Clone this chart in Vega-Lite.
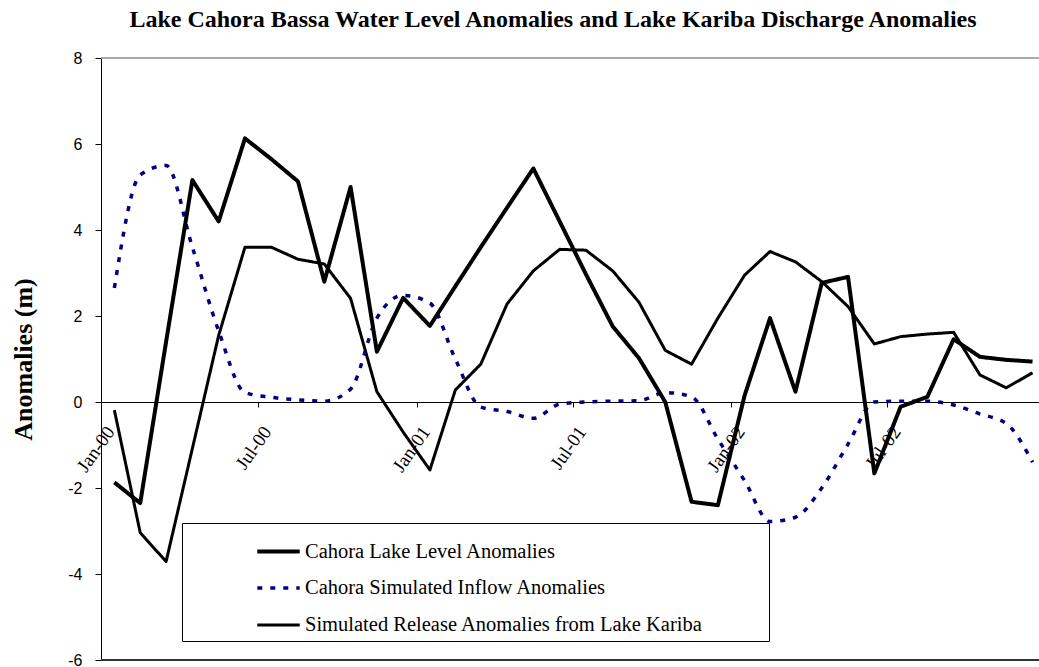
{
  "$schema": "https://vega.github.io/schema/vega-lite/v6.json",
  "width": 938,
  "height": 602,
  "autosize": {"type": "none"},
  "padding": {"left": 101, "top": 58, "right": 0, "bottom": 7},
  "background": "white",
  "config": {
    "view": {"stroke": null},
    "axisY": {
      "tickSize": 6, "tickColor": "#000000", "domainColor": "#000000", "grid": false,
      "labelFont": "Liberation Sans", "labelFontSize": 16, "labelColor": "#000000", "labelPadding": 13,
      "titleFont": "Liberation Serif", "titleFontSize": 26, "titleFontWeight": "bold", "titleColor": "#000000", "titlePadding": 31
    },
    "legend": {
      "orient": "none",
      "legendX": 81,
      "legendY": 465,
      "strokeColor": "#000000",
      "fillColor": "#ffffff",
      "padding": 5,
      "symbolType": "stroke",
      "symbolSize": 1800,
      "symbolOffset": 68,
      "labelFont": "Liberation Serif",
      "labelFontSize": 20.5,
      "labelColor": "#000000",
      "labelLimit": 0,
      "labelOffset": 3,
      "rowPadding": 3,
      "titleOrient": "right",
      "titlePadding": 61,
      "titleFontSize": 2
    }
  },
  "title": {
    "text": "Lake Cahora Bassa Water Level Anomalies and Lake Kariba Discharge  Anomalies",
    "font": "Liberation Serif",
    "fontSize": 24,
    "fontWeight": "bold",
    "color": "#000000",
    "anchor": "middle",
    "dx": -17,
    "offset": 18
  },
  "data": {
    "values": [
      {"month": "2000-01-01", "Cahora Lake Level Anomalies": -1.87, "Cahora Simulated Inflow Anomalies": 2.65, "Simulated Release Anomalies from Lake Kariba": -0.19},
      {"month": "2000-02-01", "Cahora Lake Level Anomalies": -2.35, "Cahora Simulated Inflow Anomalies": 5.28, "Simulated Release Anomalies from Lake Kariba": -3.04},
      {"month": "2000-03-01", "Cahora Lake Level Anomalies": 1.4, "Cahora Simulated Inflow Anomalies": 5.5, "Simulated Release Anomalies from Lake Kariba": -3.71},
      {"month": "2000-04-01", "Cahora Lake Level Anomalies": 5.16, "Cahora Simulated Inflow Anomalies": 3.6, "Simulated Release Anomalies from Lake Kariba": -1.08},
      {"month": "2000-05-01", "Cahora Lake Level Anomalies": 4.2, "Cahora Simulated Inflow Anomalies": 1.65, "Simulated Release Anomalies from Lake Kariba": 1.55},
      {"month": "2000-06-01", "Cahora Lake Level Anomalies": 6.13, "Cahora Simulated Inflow Anomalies": 0.22, "Simulated Release Anomalies from Lake Kariba": 3.6},
      {"month": "2000-07-01", "Cahora Lake Level Anomalies": 5.65, "Cahora Simulated Inflow Anomalies": 0.11, "Simulated Release Anomalies from Lake Kariba": 3.6},
      {"month": "2000-08-01", "Cahora Lake Level Anomalies": 5.13, "Cahora Simulated Inflow Anomalies": 0.05, "Simulated Release Anomalies from Lake Kariba": 3.32},
      {"month": "2000-09-01", "Cahora Lake Level Anomalies": 2.8, "Cahora Simulated Inflow Anomalies": 0.02, "Simulated Release Anomalies from Lake Kariba": 3.21},
      {"month": "2000-10-01", "Cahora Lake Level Anomalies": 5.0, "Cahora Simulated Inflow Anomalies": 0.3, "Simulated Release Anomalies from Lake Kariba": 2.41},
      {"month": "2000-11-01", "Cahora Lake Level Anomalies": 1.17, "Cahora Simulated Inflow Anomalies": 1.95, "Simulated Release Anomalies from Lake Kariba": 0.24},
      {"month": "2000-12-01", "Cahora Lake Level Anomalies": 2.42, "Cahora Simulated Inflow Anomalies": 2.48, "Simulated Release Anomalies from Lake Kariba": -0.7},
      {"month": "2001-01-01", "Cahora Lake Level Anomalies": 1.77, "Cahora Simulated Inflow Anomalies": 2.3, "Simulated Release Anomalies from Lake Kariba": -1.58},
      {"month": "2001-02-01", "Cahora Lake Level Anomalies": 2.69, "Cahora Simulated Inflow Anomalies": 1.0, "Simulated Release Anomalies from Lake Kariba": 0.28},
      {"month": "2001-03-01", "Cahora Lake Level Anomalies": 3.6, "Cahora Simulated Inflow Anomalies": -0.12, "Simulated Release Anomalies from Lake Kariba": 0.88},
      {"month": "2001-04-01", "Cahora Lake Level Anomalies": 4.52, "Cahora Simulated Inflow Anomalies": -0.22, "Simulated Release Anomalies from Lake Kariba": 2.28},
      {"month": "2001-05-01", "Cahora Lake Level Anomalies": 5.43, "Cahora Simulated Inflow Anomalies": -0.38, "Simulated Release Anomalies from Lake Kariba": 3.05},
      {"month": "2001-06-01", "Cahora Lake Level Anomalies": 4.2, "Cahora Simulated Inflow Anomalies": -0.05, "Simulated Release Anomalies from Lake Kariba": 3.55},
      {"month": "2001-07-01", "Cahora Lake Level Anomalies": 2.97, "Cahora Simulated Inflow Anomalies": 0.0, "Simulated Release Anomalies from Lake Kariba": 3.53},
      {"month": "2001-08-01", "Cahora Lake Level Anomalies": 1.76, "Cahora Simulated Inflow Anomalies": 0.02, "Simulated Release Anomalies from Lake Kariba": 3.05},
      {"month": "2001-09-01", "Cahora Lake Level Anomalies": 1.02, "Cahora Simulated Inflow Anomalies": 0.03, "Simulated Release Anomalies from Lake Kariba": 2.32},
      {"month": "2001-10-01", "Cahora Lake Level Anomalies": 0.0, "Cahora Simulated Inflow Anomalies": 0.22, "Simulated Release Anomalies from Lake Kariba": 1.2},
      {"month": "2001-11-01", "Cahora Lake Level Anomalies": -2.32, "Cahora Simulated Inflow Anomalies": 0.12, "Simulated Release Anomalies from Lake Kariba": 0.88},
      {"month": "2001-12-01", "Cahora Lake Level Anomalies": -2.4, "Cahora Simulated Inflow Anomalies": -0.86, "Simulated Release Anomalies from Lake Kariba": 1.95},
      {"month": "2002-01-01", "Cahora Lake Level Anomalies": 0.15, "Cahora Simulated Inflow Anomalies": -1.83, "Simulated Release Anomalies from Lake Kariba": 2.95},
      {"month": "2002-02-01", "Cahora Lake Level Anomalies": 1.95, "Cahora Simulated Inflow Anomalies": -2.78, "Simulated Release Anomalies from Lake Kariba": 3.5},
      {"month": "2002-03-01", "Cahora Lake Level Anomalies": 0.24, "Cahora Simulated Inflow Anomalies": -2.68, "Simulated Release Anomalies from Lake Kariba": 3.26},
      {"month": "2002-04-01", "Cahora Lake Level Anomalies": 2.77, "Cahora Simulated Inflow Anomalies": -2.0, "Simulated Release Anomalies from Lake Kariba": 2.8},
      {"month": "2002-05-01", "Cahora Lake Level Anomalies": 2.91, "Cahora Simulated Inflow Anomalies": -0.98, "Simulated Release Anomalies from Lake Kariba": 2.22},
      {"month": "2002-06-01", "Cahora Lake Level Anomalies": -1.66, "Cahora Simulated Inflow Anomalies": 0.0, "Simulated Release Anomalies from Lake Kariba": 1.35},
      {"month": "2002-07-01", "Cahora Lake Level Anomalies": -0.11, "Cahora Simulated Inflow Anomalies": 0.02, "Simulated Release Anomalies from Lake Kariba": 1.52},
      {"month": "2002-08-01", "Cahora Lake Level Anomalies": 0.12, "Cahora Simulated Inflow Anomalies": 0.02, "Simulated Release Anomalies from Lake Kariba": 1.58},
      {"month": "2002-09-01", "Cahora Lake Level Anomalies": 1.46, "Cahora Simulated Inflow Anomalies": -0.07, "Simulated Release Anomalies from Lake Kariba": 1.62},
      {"month": "2002-10-01", "Cahora Lake Level Anomalies": 1.05, "Cahora Simulated Inflow Anomalies": -0.28, "Simulated Release Anomalies from Lake Kariba": 0.63},
      {"month": "2002-11-01", "Cahora Lake Level Anomalies": 0.98, "Cahora Simulated Inflow Anomalies": -0.5, "Simulated Release Anomalies from Lake Kariba": 0.33},
      {"month": "2002-12-01", "Cahora Lake Level Anomalies": 0.94, "Cahora Simulated Inflow Anomalies": -1.4, "Simulated Release Anomalies from Lake Kariba": 0.68}
    ]
  },
  "layer": [
    {
      "data": {"values": [{}]},
      "mark": {"type": "rule", "color": "#555555", "strokeWidth": 1},
      "encoding": {"y": {"datum": 8, "type": "quantitative"}}
    },
    {
      "data": {"values": [{}]},
      "mark": {"type": "rule", "color": "#333333", "strokeWidth": 2},
      "encoding": {"y": {"datum": -6, "type": "quantitative"}}
    },
    {
      "transform": [
        {"fold": ["Simulated Release Anomalies from Lake Kariba", "Cahora Simulated Inflow Anomalies", "Cahora Lake Level Anomalies"], "as": ["series", "value"]},
        {"filter": "datum.series === 'Simulated Release Anomalies from Lake Kariba'"}
      ],
      "mark": {"type": "line", "strokeJoin": "round"},
      "encoding": {
        "x": {
          "field": "month", "timeUnit": "utcyearmonth", "type": "temporal", "bandPosition": 0.5,
          "scale": {"type": "utc", "domain": [{"year": 2000, "month": 1, "date": 1, "utc": true}, {"year": 2002, "month": 12, "date": 24, "utc": true}]},
          "axis": {
            "orient": "bottom", "offset": -258,
            "values": [
              {"year": 2000, "month": 1, "date": 1, "utc": true},
              {"year": 2000, "month": 7, "date": 1, "utc": true},
              {"year": 2001, "month": 1, "date": 1, "utc": true},
              {"year": 2001, "month": 7, "date": 1, "utc": true},
              {"year": 2002, "month": 1, "date": 1, "utc": true},
              {"year": 2002, "month": 7, "date": 1, "utc": true}
            ],
            "format": "%b-%y",
            "labelAngle": -55, "labelAlign": "right", "labelBaseline": "middle",
            "labelFont": "Liberation Serif", "labelFontSize": 19, "labelColor": "#000000",
            "labelOffset": 9, "labelPadding": 21, "labelOverlap": false, "labelFlush": false, "labelBound": false,
            "tickSize": 5, "tickColor": "#000000", "domainColor": "#000000", "grid": false, "title": null
          }
        },
        "y": {
          "field": "value", "type": "quantitative", "title": "Anomalies (m)",
          "scale": {"domain": [-6, 8], "nice": false, "zero": false},
          "axis": {"values": [-6, -4, -2, 0, 2, 4, 6, 8], "labelExpr": "datum.value < 0 ? '-' + abs(datum.value) : '' + datum.value"}
        },
        "color": {"field": "series", "type": "nominal", "title": " ",
          "scale": {"domain": ["Cahora Lake Level Anomalies", "Cahora Simulated Inflow Anomalies", "Simulated Release Anomalies from Lake Kariba"], "range": ["#000000", "#000080", "#000000"]}},
        "strokeWidth": {"field": "series", "type": "nominal", "title": " ",
          "scale": {"domain": ["Cahora Lake Level Anomalies", "Cahora Simulated Inflow Anomalies", "Simulated Release Anomalies from Lake Kariba"], "range": [4, 3, 1]}},
        "strokeDash": {"field": "series", "type": "nominal", "title": " ",
          "scale": {"domain": ["Cahora Lake Level Anomalies", "Cahora Simulated Inflow Anomalies", "Simulated Release Anomalies from Lake Kariba"], "range": [[1, 0], [5, 8], [1, 0]]}}
      }
    },
    {
      "transform": [
        {"fold": ["Simulated Release Anomalies from Lake Kariba", "Cahora Simulated Inflow Anomalies", "Cahora Lake Level Anomalies"], "as": ["series", "value"]},
        {"filter": "datum.series === 'Cahora Simulated Inflow Anomalies'"}
      ],
      "mark": {"type": "line", "interpolate": "monotone"},
      "encoding": {
        "x": {"field": "month", "timeUnit": "utcyearmonth", "type": "temporal", "bandPosition": 0.5},
        "y": {"field": "value", "type": "quantitative", "title": "Anomalies (m)"},
        "color": {"field": "series", "type": "nominal", "title": " "},
        "strokeWidth": {"field": "series", "type": "nominal", "title": " "},
        "strokeDash": {"field": "series", "type": "nominal", "title": " "}
      }
    },
    {
      "transform": [
        {"fold": ["Simulated Release Anomalies from Lake Kariba", "Cahora Simulated Inflow Anomalies", "Cahora Lake Level Anomalies"], "as": ["series", "value"]},
        {"filter": "datum.series === 'Cahora Lake Level Anomalies'"}
      ],
      "mark": {"type": "line", "strokeJoin": "round"},
      "encoding": {
        "x": {"field": "month", "timeUnit": "utcyearmonth", "type": "temporal", "bandPosition": 0.5},
        "y": {"field": "value", "type": "quantitative", "title": "Anomalies (m)"},
        "color": {"field": "series", "type": "nominal", "title": " "},
        "strokeWidth": {"field": "series", "type": "nominal", "title": " "},
        "strokeDash": {"field": "series", "type": "nominal", "title": " "}
      }
    }
  ]
}
